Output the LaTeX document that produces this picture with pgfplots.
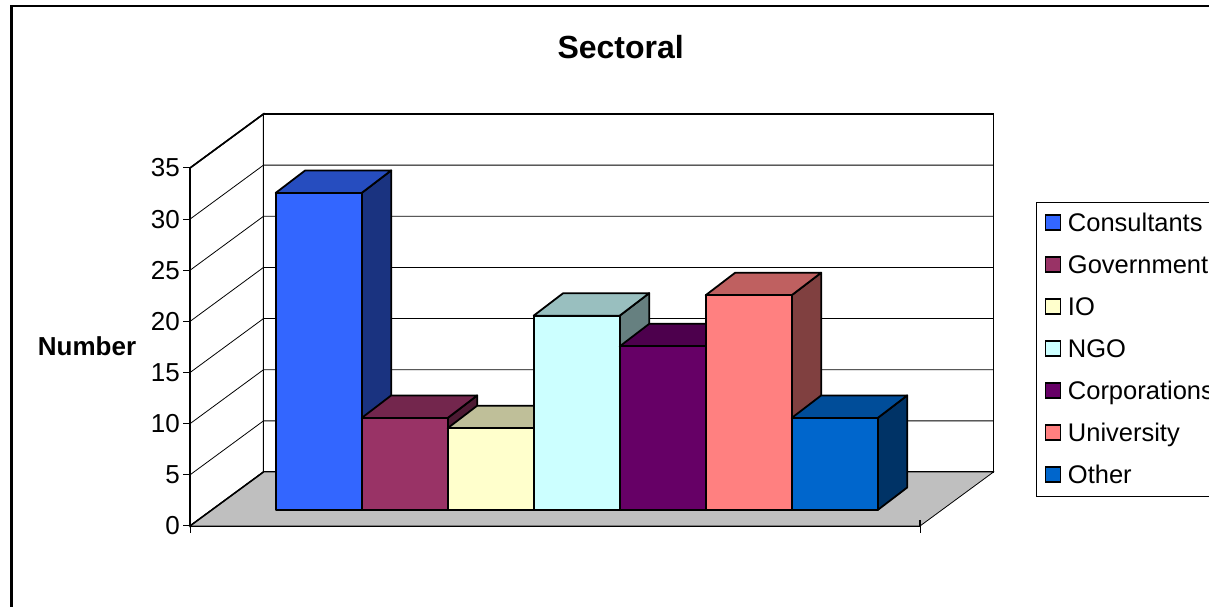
\documentclass[border=0pt]{standalone}
\usepackage{fontspec}
\setmainfont{Liberation Sans}
\usepackage{pgfplots}
\pgfplotsset{compat=1.18}
\definecolor{c1}{HTML}{3366FF}\definecolor{c1t}{HTML}{264DBF}\definecolor{c1s}{HTML}{1A3380}
\definecolor{c2}{HTML}{993366}\definecolor{c2t}{HTML}{73264D}\definecolor{c2s}{HTML}{4D1A33}
\definecolor{c3}{HTML}{FFFFCC}\definecolor{c3t}{HTML}{BFBF99}\definecolor{c3s}{HTML}{808066}
\definecolor{c4}{HTML}{CCFFFF}\definecolor{c4t}{HTML}{99BFBF}\definecolor{c4s}{HTML}{668080}
\definecolor{c5}{HTML}{660066}\definecolor{c5t}{HTML}{4D004D}\definecolor{c5s}{HTML}{330033}
\definecolor{c6}{HTML}{FF8080}\definecolor{c6t}{HTML}{BF6060}\definecolor{c6s}{HTML}{804040}
\definecolor{c7}{HTML}{0066CC}\definecolor{c7t}{HTML}{004D99}\definecolor{c7s}{HTML}{003366}
% x data are picture columns (the front plane runs 190..920), y data are chart values
\newcommand{\drawbar}[5]{%
  \addplot[forget plot,draw=black,line width=1.8pt,line join=round,fill=#5] coordinates {({#1+86},1.564) ({#1+115.5},3.764) ({#1+115.5},{#2+3.764}) ({#1+86},{#2+1.564})} -- cycle;
  \addplot[forget plot,draw=black,line width=1.8pt,line join=round,fill=#4] coordinates {(#1,{#2+1.564}) ({#1+29.5},{#2+3.764}) ({#1+115.5},{#2+3.764}) ({#1+86},{#2+1.564})} -- cycle;
  \addplot[forget plot,draw=black,line width=1.8pt,line join=round,fill=#3] coordinates {(#1,1.564) ({#1+86},1.564) ({#1+86},{#2+1.564}) (#1,{#2+1.564})} -- cycle;
}
\begin{document}
\begin{tikzpicture}
\path[clip,use as bounding box] (0,0) rectangle (1209pt,607pt);
\begin{axis}[
  at={(190pt,81pt)},anchor=south west,
  scale only axis,width=730pt,height=358pt,
  xmin=190,xmax=920,ymin=0,ymax=35,clip=false,
  axis x line=bottom,axis y line=left,
  axis line style={-,line width=1.5pt,black},
  xtick={190,920},xticklabels={,},
  ytick={0,5,...,35},
  tick align=outside,major tick length=7pt,
  tick style={black,line width=1pt},
  /pgf/number format/assume math mode=true,
  tick label style={font=\fontsize{26}{30}\selectfont},
  yticklabel style={inner xsep=3pt},
  title={\bfseries Sectoral},
  every axis title/.style={at={(axis description cs:0.590,1.307)},anchor=base,font=\fontsize{32}{36}\selectfont},
  ylabel={\bfseries Number},
  every axis y label/.style={at={(axis description cs:-0.141,0.477)},anchor=base,font=\fontsize{26}{30}\selectfont},
  legend style={at={(axis description cs:1.1585,0.906)},anchor=north west,
    draw=black,line width=0.8pt,fill=white,
    font=\fontsize{25.5}{30}\selectfont,
    inner xsep=9pt,inner ysep=8.5pt,row sep=17pt,column sep=6.5pt,
    nodes={inner sep=0pt,text height=21pt,text depth=4pt}},
  legend cell align=left,
  legend image code/.code={\draw[#1,draw=black,line width=1.3pt] (0pt,-7pt) rectangle (15pt,8pt);},
]
% outer frame
\addplot[forget plot,black,line width=2pt] coordinates {(11.5,-9) (11.5,50.83) (1215,50.83)};
% walls and floor
\addplot[forget plot,draw=black,line width=1.5pt,fill=white] coordinates {(190,0) (190,35) (263.5,40.279) (263.5,5.279)} -- cycle;
\addplot[forget plot,draw=black,line width=1.5pt,fill=white] coordinates {(263.5,5.279) (263.5,40.279) (993.5,40.279) (993.5,5.279)} -- cycle;
\addplot[forget plot,draw=black,line width=0.8pt,fill=black!25] coordinates {(190,0) (263.5,5.279) (993.5,5.279) (920,0)} -- cycle;
% gridlines
\pgfplotsinvokeforeach{5,10,15,20,25,30}{
  \addplot[forget plot,black,line width=0.8pt] coordinates {(190,#1) (263.5,{#1+5.279}) (993.5,{#1+5.279})};
}
\addplot[forget plot,black,line width=1.5pt] coordinates {(190,35) (263.5,40.279)};
\addplot[forget plot,black,line width=1.5pt] coordinates {(190,0) (263.5,5.279)};
\addplot[forget plot,black,line width=1.2pt] coordinates {(920,0.6) (920,0)};
% bars
\drawbar{275.7}{31}{c1}{c1t}{c1s}
\drawbar{361.7}{9}{c2}{c2t}{c2s}
\drawbar{447.7}{8}{c3}{c3t}{c3s}
\drawbar{533.7}{19}{c4}{c4t}{c4s}
\drawbar{619.7}{16}{c5}{c5t}{c5s}
\drawbar{705.7}{21}{c6}{c6t}{c6s}
\drawbar{791.7}{9}{c7}{c7t}{c7s}
\addlegendimage{fill=c1}\addlegendentry{Consultants}
\addlegendimage{fill=c2}\addlegendentry{Government}
\addlegendimage{fill=c3}\addlegendentry{IO}
\addlegendimage{fill=c4}\addlegendentry{NGO}
\addlegendimage{fill=c5}\addlegendentry{Corporations}
\addlegendimage{fill=c6}\addlegendentry{University}
\addlegendimage{fill=c7}\addlegendentry{Other}
\end{axis}
\end{tikzpicture}
\end{document}
